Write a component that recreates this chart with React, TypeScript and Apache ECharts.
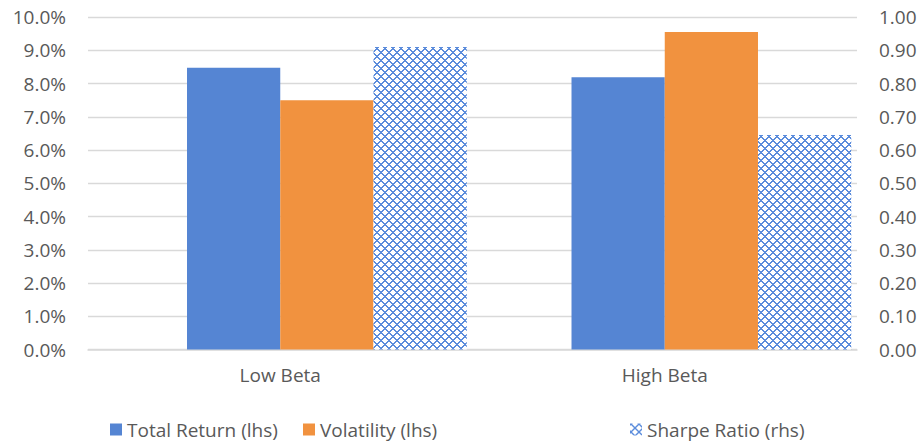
import React, { useEffect, useRef } from "react";
import * as echarts from "echarts";

const categories = ["Low Beta", "High Beta"];
const totalReturn = [8.47, 8.19];
const volatility = [7.5, 9.55];
const sharpeRatio = [0.91, 0.645];
const seriesNames = ["Total Return (lhs)", "Volatility (lhs)", "Sharpe Ratio (rhs)"];

const FONT = "'Open Sans', sans-serif";
const TXT = "#595959";

function makePattern(): HTMLCanvasElement {
  const c = document.createElement("canvas");
  c.width = 8;
  c.height = 8;
  const ctx = c.getContext("2d")!;
  ctx.fillStyle = "#ffffff";
  ctx.fillRect(0, 0, 8, 8);
  ctx.fillStyle = "#5b8cdc";
  for (let y = 0; y < 8; y++) {
    for (let x = 0; x < 8; x++) {
      const a = (x + y) % 8;
      const b = (x - y + 8) % 8;
      if (a === 0 || a === 1 || b === 0 || b === 1) ctx.fillRect(x, y, 1, 1);
    }
  }
  return c;
}

export default function App() {
  const ref = useRef<HTMLDivElement>(null);
  useEffect(() => {
    if (!ref.current) return;
    const chart = echarts.init(ref.current, undefined, { renderer: "svg" });
    const pattern = { image: makePattern(), repeat: "repeat" as const };
    const legendCommon = {
      top: 415,
      padding: 5,
      itemWidth: 12,
      itemHeight: 12,
      icon: "rect",
      textStyle: { fontFamily: FONT, fontSize: 19, color: TXT },
      selectedMode: false as const,
    };
    chart.setOption({
      animation: false,
      textStyle: { fontFamily: FONT },
      grid: { left: 88, right: 67, top: 17, bottom: 95.5 },
      legend: [
        { ...legendCommon, left: 105, data: [seriesNames[0]] },
        { ...legendCommon, left: 298, data: [seriesNames[1]] },
        { ...legendCommon, left: 625, data: [seriesNames[2]] },
      ],
      xAxis: {
        type: "category",
        data: categories,
        axisTick: { show: false },
        axisLine: { lineStyle: { color: "#d9d9d9", width: 1.5 } },
        axisLabel: { color: TXT, fontSize: 19, fontFamily: FONT, margin: 16 },
      },
      yAxis: [
        {
          type: "value",
          min: 0,
          max: 10,
          interval: 1,
          axisLine: { show: false },
          axisTick: { show: false },
          splitLine: { lineStyle: { color: "#d9d9d9", width: 1.3 } },
          axisLabel: {
            color: TXT,
            fontSize: 19,
            fontFamily: FONT,
            margin: 22,
            formatter: (v: number) => v.toFixed(1) + "%",
          },
        },
        {
          type: "value",
          min: 0,
          max: 1,
          interval: 0.1,
          position: "right",
          axisLine: { show: false },
          axisTick: { show: false },
          splitLine: { show: false },
          axisLabel: {
            color: TXT,
            fontSize: 19,
            fontFamily: FONT,
            margin: 22,
            formatter: (v: number) => v.toFixed(2),
          },
        },
      ],
      series: [
        {
          name: "blank",
          type: "bar",
          data: ["-", "-"],
          barGap: "0%",
          barCategoryGap: "3%",
        },
        {
          name: seriesNames[0],
          type: "bar",
          data: totalReturn,
          itemStyle: { color: "#5585d3" },
          barGap: "0%",
          barCategoryGap: "3%",
        },
        {
          name: seriesNames[1],
          type: "bar",
          data: volatility,
          itemStyle: { color: "#f1923f" },
          barGap: "0%",
          barCategoryGap: "3%",
        },
        {
          name: seriesNames[2],
          type: "bar",
          yAxisIndex: 1,
          data: sharpeRatio,
          itemStyle: { color: pattern },
          barGap: "0%",
          barCategoryGap: "3%",
        },
      ],
    });
    return () => chart.dispose();
  }, []);
  return (
    <div
      ref={ref}
      style={{ position: "absolute", left: 0, top: 0, width: 924, height: 445, background: "#fff" }}
    />
  );
}
